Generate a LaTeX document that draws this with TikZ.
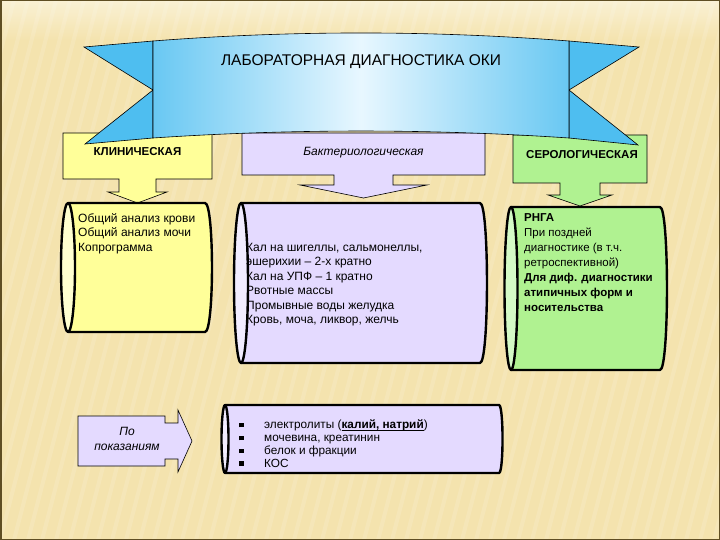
\documentclass[tikz,border=0pt]{standalone}
\usepackage{fontspec}
\setmainfont{Liberation Sans}
\usepackage{tikz}
\tikzset{>=latex}
\usetikzlibrary{calc,positioning}

\definecolor{paper}{RGB}{244,227,174}
\definecolor{paperlight}{RGB}{250,241,212}
\definecolor{framebrown}{RGB}{95,78,35}
\definecolor{ribbon}{RGB}{78,190,240}
\definecolor{ribbonlight}{RGB}{232,247,255}
\definecolor{clinfill}{RGB}{255,255,153}
\definecolor{clinlight}{RGB}{255,255,208}
\definecolor{bactfill}{RGB}{228,218,255}
\definecolor{bactlight}{RGB}{241,236,255}
\definecolor{serofill}{RGB}{176,242,145}
\definecolor{serolight}{RGB}{212,250,198}

\newcommand{\sqbullet}{\makebox[25pt][l]{\rule[1.5pt]{4.5pt}{4.5pt}}}
\newlength{\ulwidth}
\newcommand{\ulbold}[1]{\settowidth{\ulwidth}{\textbf{#1}}\rlap{\rule[-1.6pt]{\ulwidth}{0.7pt}}\textbf{#1}}

\tikzset{
  callout/.style={draw=black, line width=0.6pt},
  can/.style={draw=black, line width=2.4pt, line join=round},
  txt/.style={inner sep=0pt, align=left, anchor=north west, font=\fontsize{12}{14.5}\selectfont},
}

\begin{document}
\begin{tikzpicture}[x=1pt, y=-1pt]
    \useasboundingbox (0,0) rectangle (720,540);

    % slide background
    \begin{scope}
        \clip (0,0) rectangle (720,540);
        \fill[paper] (0,0) rectangle (720,540);
        \shade[top color=paperlight, bottom color=paper] (0,0) rectangle (720,40);
        \foreach \s in {0,14,...,870}
            \draw[white, opacity=0.13, line width=4pt] (\s,0) -- (\s-140,540);
    \end{scope}
    \draw[framebrown, line width=1.5pt] (0.75,0.75) rectangle (719.25,539.25);

    % headers with arrows
    \draw[callout, fill=clinfill] (63,133) -- (212,133) -- (212,179) -- (156,179) -- (156,192) -- (167,192) -- (137.5,203) -- (108,192) -- (119,192) -- (119,179) -- (63,179) -- cycle;
    \draw[callout, fill=bactfill] (242,133) -- (485,133) -- (485,175) -- (393,175) -- (393,185) -- (427,185) -- (363.5,198) -- (300,185) -- (334,185) -- (334,175) -- (242,175) -- cycle;
    \draw[callout, fill=serofill] (513,135) -- (647,135) -- (647,183) -- (600,183) -- (600,195) -- (612,195) -- (580,206) -- (548,195) -- (560,195) -- (560,183) -- (513,183) -- cycle;
    \draw[callout, fill=bactfill] (78,416) -- (165,416) -- (165,423) -- (178,423) -- (178,410) -- (192,441) -- (178,472) -- (178,459) -- (165,459) -- (165,466) -- (78,466) -- cycle;

    % cylinders
    \draw[can, fill=clinfill] (68,203) -- (205,203) .. controls (214.3,203) and (214.3,332) .. (205,332) -- (68,332) -- cycle;
    \draw[can, fill=clinlight] (68,267.5) ellipse [x radius=7, y radius=64.5];

    \draw[can, fill=bactfill] (241,203) -- (480,203) .. controls (489.3,203) and (489.3,363) .. (480,363) -- (241,363) -- cycle;
    \draw[can, fill=bactlight] (241,283) ellipse [x radius=7, y radius=80];

    \draw[can, fill=serofill] (511,207) -- (660,207) .. controls (669.3,207) and (669.3,370) .. (660,370) -- (511,370) -- cycle;
    \draw[can, fill=serolight] (511,288.5) ellipse [x radius=6.5, y radius=81.5];

    \draw[can, fill=bactfill] (225,405) -- (499,405) .. controls (503.7,405) and (503.7,473) .. (499,473) -- (225,473) -- cycle;
    \draw[can, fill=bactlight] (225,439) ellipse [x radius=3.5, y radius=34];

    % ribbon
    \draw[fill=ribbon, line width=0.6pt] (84,47) -- (153,41) -- (153,138) -- (85,144) -- (153,90) -- cycle;
    \draw[fill=ribbon, line width=0.6pt] (639,47) -- (569,41) -- (569,138) -- (638,145) -- (569,90) -- cycle;
    \draw[line width=0.6pt, left color=ribbon!85, right color=ribbon!85, middle color=ribbonlight] (153,41) .. controls (291.7,30.3) and (430.3,30.3) .. (569,41) -- (569,138) .. controls (430.3,128.7) and (291.7,128.7) .. (153,138) -- cycle;

    % labels
    \node[font=\fontsize{15.5}{18}\selectfont] (title) at (361,62) {ЛАБОРАТОРНАЯ ДИАГНОСТИКА ОКИ};
    \node[font=\bfseries\fontsize{11.5}{13}\selectfont] (clin) at (137.5,152) {КЛИНИЧЕСКАЯ};
    \node[font=\itshape\fontsize{12}{14}\selectfont] (bact) at (363.5,153) {Бактериологическая};
    \node[font=\bfseries\fontsize{11.5}{13}\selectfont] (sero) at (582,155) {СЕРОЛОГИЧЕСКАЯ};

    \node[txt] (clinlist) at (78,213) {Общий анализ крови\\Общий анализ мочи\\Копрограмма};
    \node[txt] (bactlist) at (246,243) {Кал на шигеллы, сальмонеллы,\\эшерихии – 2-х кратно\\Кал на УПФ – 1 кратно\\Рвотные массы\\Промывные воды желудка\\Кровь, моча, ликвор, желчь};
    \node[txt, font=\fontsize{11.5}{15}\selectfont] (serolist) at (524,213) {\textbf{РНГА}\\При поздней\\диагностике (в т.ч.\\ретроспективной)\\\textbf{Для диф. диагностики}\\\textbf{атипичных форм и}\\\textbf{носительства}};
    \node[font=\itshape\fontsize{12}{14.5}\selectfont, align=center] (indic) at (127,439) {По\\показаниям};
    \node[txt, font=\fontsize{11.8}{12.8}\selectfont] (biochem) at (239,420) {\sqbullet электролиты (\ulbold{калий, натрий})\\\sqbullet мочевина, креатинин\\\sqbullet белок и фракции\\\sqbullet КОС};
\end{tikzpicture}
\end{document}
